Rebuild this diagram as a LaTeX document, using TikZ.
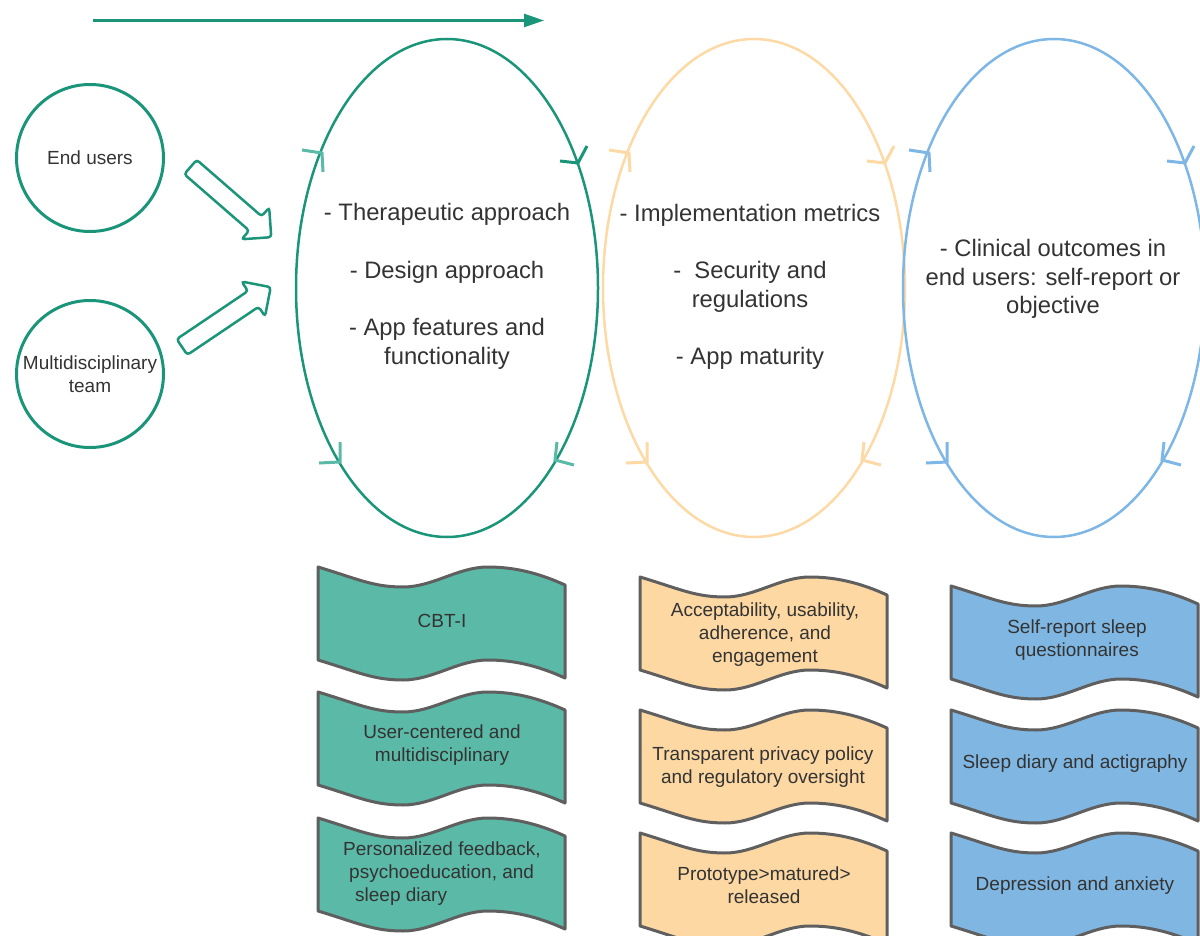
\documentclass[tikz,border=0pt]{standalone}
\usepackage{fontspec}
\setmainfont{Liberation Sans}
\usetikzlibrary{arrows.meta,shapes.geometric}
\definecolor{tealD}{HTML}{1A957A}
\definecolor{tealL}{HTML}{5BBAA7}
\definecolor{peachL}{HTML}{FDD9A6}
\definecolor{peachF}{HTML}{FDD8A3}
\definecolor{blueL}{HTML}{7EB7E6}
\definecolor{blueF}{HTML}{80B7E2}
\definecolor{bord}{HTML}{5F5F5F}
\definecolor{txt}{HTML}{333333}
\newcommand{\ymk}[7]{\draw[#7,line width=3pt] (#1,#2) ++(#3,#4) -- (#1,#2) -- ++(#5,#6);}
\newcommand{\bannershape}[3]{%
  \draw[bannerline,fill=#3,shift={(#1,#2)}] (0,0) .. controls (40,12) and (55,20) .. (85,20)
    .. controls (115,20) and (140,0) .. (170,0) .. controls (200,0) and (225,8) .. (247,18)
    -- (247,111) .. controls (225,101) and (200,93) .. (170,93)
    .. controls (140,93) and (115,113) .. (85,113) .. controls (55,113) and (40,105) .. (0,93) -- cycle;}
\begin{document}
\begin{tikzpicture}[x=1pt,y=-1pt,
  bannerline/.style={draw=bord,line width=3pt,line join=round},
  btext/.style={font=\fontsize{19}{23}\selectfont,text=txt,align=center,inner sep=0pt},
  etext/.style={font=\fontsize{23.8}{28.7}\selectfont,text=txt,align=center,inner sep=0pt},
  ell/.style={ellipse,line width=2.5pt,minimum width=302pt,minimum height=498pt,inner sep=0pt},
  circ/.style={circle,draw=tealD,line width=3pt,minimum size=147pt,inner sep=0pt,
    font=\fontsize{19}{23}\selectfont,text=txt,align=center},
  blockarrow/.style={draw=tealD,line width=2.5pt,fill=white,rounded corners=3pt}]
\useasboundingbox (0,0) rectangle (1200,936);
\clip (0,0) rectangle (1200,936);

% top arrow
\coordinate (T0) at (93,20.5);
\coordinate (T1) at (544,20.5);
\draw[tealD,line width=2.5pt,-{Triangle[length=20pt,width=13pt]}] (T0) -- (T1);

% circles
\node (C1) [circ] at (90,158) {End users};
\node (C2) [circ] at (90,374) {Multidisciplinary\\team};

% block arrows
\begin{scope}[shift={(190.5,167)},rotate=-41]
  \draw[blockarrow] (0,-9.5) -- (86,-9.5) -- (86,-21) -- (107,0) -- (86,21) -- (86,9.5) -- (0,9.5) -- cycle;
\end{scope}
\begin{scope}[shift={(182,347)},rotate=34]
  \draw[blockarrow] (0,-9.5) -- (86,-9.5) -- (86,-21) -- (107,0) -- (86,21) -- (86,9.5) -- (0,9.5) -- cycle;
\end{scope}

% ellipses
\node (E1) [ell,draw=tealD] at (447,288) {};
\node (E2) [ell,draw=peachL] at (754,288) {};
\node (E3) [ell,draw=blueL] at (1054,288) {};

% flow marks on ellipses
\ymk{322}{153}{-20}{-3}{1}{19}{tealL}
\ymk{578}{163}{-18}{-2}{9}{-17}{tealD}
\ymk{555}{460}{2}{-18}{19}{5}{tealL}
\ymk{340}{462}{0}{-20}{-21}{1}{tealL}

\ymk{629}{153}{-20}{-3}{1}{19}{peachL}
\ymk{885}{163}{-18}{-2}{9}{-17}{peachL}
\ymk{862}{460}{2}{-18}{19}{5}{peachL}
\ymk{647}{462}{0}{-20}{-21}{1}{peachL}

\ymk{929}{153}{-20}{-3}{1}{19}{blueL}
\ymk{1185}{163}{-18}{-2}{9}{-17}{blueL}
\ymk{1162}{460}{2}{-18}{19}{5}{blueL}
\ymk{947}{462}{0}{-20}{-21}{1}{blueL}

% ellipse texts
\node (X1) [etext] at (447,286.5) {- Therapeutic approach\\[28.7pt]- Design approach\\[28.7pt]- App features and\\functionality};
\node (X2) [etext] at (750,287) {- Implementation metrics\\[28.7pt]- \ Security and\\regulations\\[28.7pt]- App maturity};
\node (X3) [etext] at (1053,279) {- Clinical outcomes in\\end users: self-report or\\objective};

% banners
\bannershape{318}{567}{tealL}
\bannershape{318}{692}{tealL}
\bannershape{318}{818}{tealL}
\bannershape{640}{577}{peachF}
\bannershape{640}{710}{peachF}
\bannershape{640}{833}{peachF}
\bannershape{951}{586}{blueF}
\bannershape{951}{710}{blueF}
\bannershape{951}{833}{blueF}

\node (B11) [btext] at (442,621) {CBT-I};
\node (B12) [btext] at (442,745) {User-centered and\\multidisciplinary};
\node (B13) [btext,anchor=west,align=left] at (343,873.5) {Personalized feedback,\\\hspace*{6pt}psychoeducation, and\\\hspace*{12pt}sleep diary};
\node (B21) [btext] at (765,634.5) {Acceptability, usability,\\adherence, and\\engagement};
\node (B22) [btext] at (763,767) {Transparent privacy policy\\and regulatory oversight};
\node (B23) [btext] at (764,885) {Prototype>matured>\\released};
\node (B31) [btext] at (1077,640) {Self-report sleep\\questionnaires};
\node (B32) [btext] at (1075,763.5) {Sleep diary and actigraphy};
\node (B33) [btext] at (1075,885.5) {Depression and anxiety};
\end{tikzpicture}
\end{document}
